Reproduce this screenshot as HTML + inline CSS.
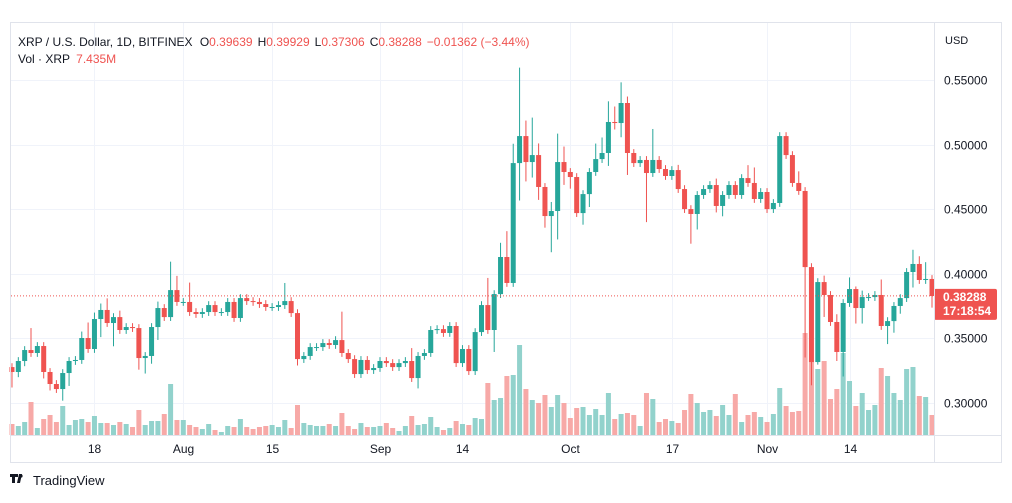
<!DOCTYPE html>
<html><head><meta charset="utf-8"><style>
body{margin:0;background:#fff;font-family:"Liberation Sans",sans-serif;}
svg text{font-family:"Liberation Sans",sans-serif;}
</style></head><body>
<svg id="chart" width="1012" height="498" viewBox="0 0 1012 498" xmlns="http://www.w3.org/2000/svg">
<rect x="0" y="0" width="1012" height="498" fill="#fff"/>
<g id="grid"></g>
<g id="vol"></g>
<g id="candles"></g>
<g id="axes"></g>
<rect x="10.5" y="22.5" width="991" height="440" fill="none" stroke="#e0e3eb"/>
<line x1="934.5" y1="22" x2="934.5" y2="462" stroke="#e0e3eb"/>
<line x1="10" y1="435.5" x2="1002" y2="435.5" stroke="#e0e3eb"/>
<text x="18" y="46" font-size="12" fill="#131722">XRP / U.S. Dollar, 1D, BITFINEX <tspan dx="4">O</tspan><tspan fill="#ef5350">0.39639</tspan><tspan dx="5">H</tspan><tspan fill="#ef5350">0.39929</tspan><tspan dx="5">L</tspan><tspan fill="#ef5350">0.37306</tspan><tspan dx="5">C</tspan><tspan fill="#ef5350">0.38288</tspan><tspan dx="5" fill="#ef5350">−0.01362 (−3.44%)</tspan></text>
<text x="18" y="63" font-size="12" fill="#131722">Vol · XRP <tspan dx="3" fill="#ef5350">7.435M</tspan></text>
<text x="945" y="44" font-size="11" fill="#131722">USD</text>
<g>
<path d="M10 474h8v3h-3v6h-3v-6h-2z M19 474h3l-2 9h-3z" fill="#131722"/>
<circle cx="21" cy="476" r="1.6" fill="#131722"/>
<text x="33" y="485" font-size="13" fill="#131722">TradingView</text>
</g>
</svg>
<script>
const firstOpen = 0.3278;
const closes = [.3240,.3325,.3410,.3387,.3441,.3240,.3147,.3108,.3232,.3325,.3333,.3503,.3418,.3650,.3720,.3619,.3665,.3565,.3588,.3580,.3348,.3364,.3588,.3735,.3665,.3874,.3782,.3782,.3704,.3689,.3704,.3758,.3704,.3704,.3782,.3658,.3812,.3789,.3782,.3766,.3743,.3743,.3758,.3789,.3696,.3340,.3364,.3433,.3433,.3464,.3449,.3487,.3387,.3340,.3224,.3333,.3255,.3271,.3325,.3309,.3278,.3309,.3325,.3193,.3364,.3387,.3565,.3572,.3542,.3596,.3309,.3418,.3247,.3549,.3758,.3565,.3843,.4130,.3929,.4857,.5066,.4865,.4919,.4672,.4447,.4486,.4865,.4788,.4749,.4470,.4617,.4788,.4888,.4935,.5175,.5167,.5322,.4935,.4857,.4881,.4780,.4881,.4811,.4757,.4803,.4656,.4501,.4463,.4610,.4656,.4687,.4525,.4610,.4687,.4610,.4741,.4703,.4579,.4633,.4501,.4548,.5066,.4919,.4703,.4641,.4052,.3317,.3936,.3836,.3627,.3395,.3774,.3882,.3735,.3820,.3820,.3836,.3596,.3634,.3751,.3812,.4014,.4076,.3952,.3960,.3828];
const upWick = [3,3,3,17,3,3,3,3,3,3, 3,5,12,5,5,9,3,5,3,3, 3,3,3,5,3,22,11,3,15,3, 3,3,3,3,3,3,3,3,3,3, 3,3,3,14,3,3,3,3,3,3, 3,3,22,3,3,3,3,3,3,3, 3,3,3,10,3,3,3,3,3,3, 3,3,3,3,3,21,3,11,20,15, 53,12,29,9,3,7,22,12,3,3, 3,3,12,12,16,12,16,5,3,3, 3,24,3,3,3,4,3,3,3,3, 3,5,3,3,3,3,10,12,3,3, 3,3,3,3,9,3,3,3,5,3, 6,3,9,2,5,3,3,12,3,3, 3,3,11,6,13,3];
const downWick = [12,4,4,3,3,5,5,3,9,10, 3,3,3,3,14,3,18,3,3,3, 9,12,6,10,3,3,3,3,3,3, 3,3,3,3,3,3,3,3,3,3, 3,3,3,3,3,5,3,3,3,3, 3,3,3,3,3,3,3,3,3,3, 3,3,3,3,8,3,3,3,3,3, 3,3,3,3,3,3,17,3,3,3, 29,15,12,10,9,28,22,10,9,3, 9,10,3,3,10,5,11,17,3,3, 38,3,3,3,3,3,3,23,12,3, 3,5,8,3,3,3,3,3,3,3, 3,3,3,3,3,70,18,2,17,3, 7,19,3,12,12,3,3,3,14,9, 6,3,12,3,3,9];
const volumes = [11,9,13,33,7,16,20,13,29,10,15,16,13,19,12,12,10,13,11,8,25,10,14,14, 21,51,15,15,10,8,6,11,5,3,9,8,16,8,6,8,9,10,8,15,7,30,12,10, 9,9,11,9,22,9,6,12,8,8,9,12,7,4,9,19,10,11,18,8,5,7,14,11, 10,17,16,52,35,37,59,60,90,46,35,32,40,28,40,32,17,27,28,20,26,20, 42,16,21,22,20,9,42,36,13,16,14,12,25,41,32,23,25,19,30,20,41,13,20,23,18,13, 21,47,29,23,24,102,75,66,74,36,46,82,54,29,42,25,30,67,59,42,35,66,68,39,38,20];
const priceTicks = [0.30,0.35,0.40,0.45,0.50,0.55];
const priceTickLabels = ["0.30000","0.35000","0.40000","0.45000","0.50000","0.55000"];
const timeTickIndex = [13,27,41,58,71,88,104,119,132];
const timeTickLabels = ["18","Aug","15","Sep","14","Oct","17","Nov","14"];
const lastPrice = 0.38288, lastLabel = "0.38288", countdown = "17:18:54";

const NS="http://www.w3.org/2000/svg";
const yP = p => 80 + (0.55 - p) * 1292;
const step = 6.345, xLast = 932;
const xI = i => xLast - (closes.length - 1 - i) * step;
const yV = v => 435 - v;
function mk(tag, attrs, parent){const e=document.createElementNS(NS,tag);for(const k in attrs)e.setAttribute(k,attrs[k]);parent.appendChild(e);return e;}
const grid=document.getElementById('grid'),vol=document.getElementById('vol'),cg=document.getElementById('candles'),ax=document.getElementById('axes');
priceTicks.forEach((p,k)=>{
  const y=Math.round(yP(p))+0.5;
  const l=mk('line',{x1:11,x2:934,y1:y,y2:y,stroke:'#f0f3fa'},grid);
  
  
  const t=mk('text',{x:944,y:y+4,'font-size':12,fill:'#131722'},ax);
  t.textContent=priceTickLabels[k];
  
  
});
timeTickIndex.forEach((i,k)=>{
  const x=Math.round(xI(i))+0.5;
  const l=mk('line',{x1:x,x2:x,y1:23,y2:435,stroke:'#f0f3fa'},grid);
  
  
  const t=mk('text',{x:x,y:453,'font-size':12,fill:'#131722','text-anchor':'middle'},ax);
  t.textContent=timeTickLabels[k];
  
  
});
closes.forEach((c,i)=>{
  const o = i===0 ? firstOpen : closes[i-1];
  const up = c>=o;
  const col = up ? '#26a69a' : '#ef5350';
  const x = xI(i);
  const v = mk('rect',{x:x-2.5,y:yV(volumes[i]),width:5,height:volumes[i],fill:up?'#92d2cc':'#f7a9a7'},vol);
  
  
  const hi=Math.max(o,c)+upWick[i]*0.001, lo=Math.min(o,c)-downWick[i]*0.001;
  const w=mk('line',{x1:x,x2:x,y1:yP(hi),y2:yP(lo),stroke:col,'stroke-width':1},cg);
  
  
  const top=yP(Math.max(o,c)), h=Math.max(1,yP(Math.min(o,c))-top);
  const b=mk('rect',{x:x-2.5,y:top,width:5,height:h,fill:col},cg);
  
  
});
const ly=yP(lastPrice);
const pl=mk('line',{x1:11,x2:934,y1:ly,y2:ly,stroke:'#ef5350','stroke-dasharray':'1,2'},ax);


const bx=mk('rect',{x:934,y:ly-7,width:63,height:31,rx:2,fill:'#ef5350'},ax);


const t1=mk('text',{x:943,y:ly+5,'font-size':12,'font-weight':'bold',fill:'#fff'},ax);
t1.textContent=lastLabel;


const t2=mk('text',{x:943,y:ly+19,'font-size':12,'font-weight':'bold',fill:'#fff'},ax);
t2.textContent=countdown;


</script>
</body></html>
